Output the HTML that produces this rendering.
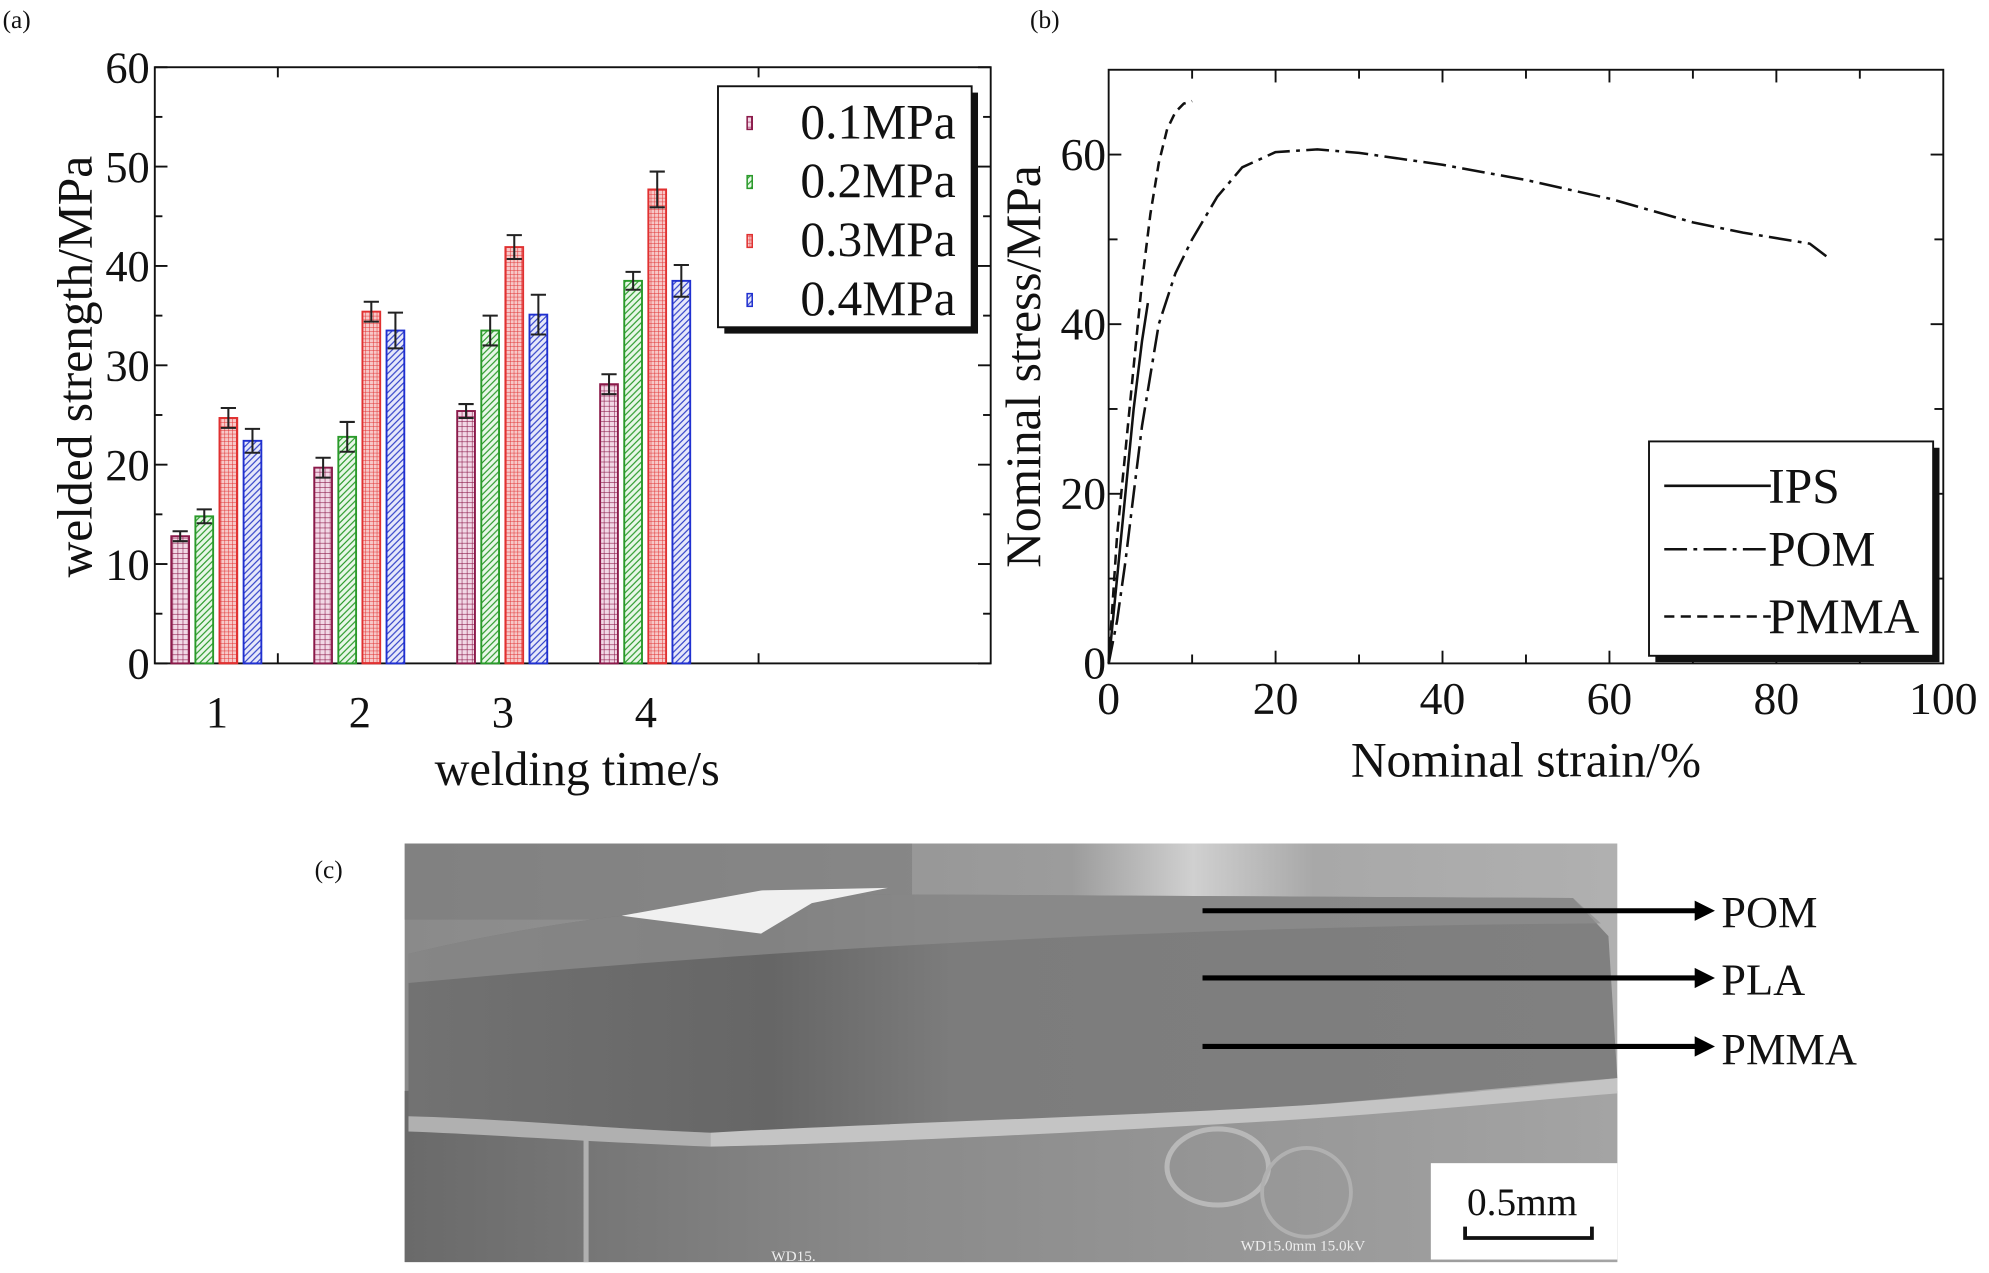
<!DOCTYPE html>
<html><head><meta charset="utf-8"><style>
html,body{margin:0;padding:0;background:#fff}
svg{display:block}
text{font-family:"Liberation Serif",serif;fill:#111}
</style></head><body>
<svg id="fig" width="1989" height="1273" viewBox="0 0 1568 1003.6">
<defs>
<pattern id="p1" width="4" height="4" patternUnits="userSpaceOnUse"><rect width="4" height="4" fill="#f2d8e6"/><path d="M0 0H4M0 0V4" stroke="#8b1a4a" stroke-width="0.9"/></pattern>
<pattern id="p2" width="5" height="5" patternUnits="userSpaceOnUse"><rect width="5" height="5" fill="#e8f7e8"/><path d="M0 5L5 0M-1 1L1 -1M4 6L6 4" stroke="#2a9a2a" stroke-width="0.9"/></pattern>
<pattern id="p3" width="3" height="3" patternUnits="userSpaceOnUse"><rect width="3" height="3" fill="#f7c8c8"/><path d="M0 0H3M0 0V3" stroke="#e03030" stroke-width="0.8"/></pattern>
<pattern id="p4" width="5" height="5" patternUnits="userSpaceOnUse"><rect width="5" height="5" fill="#e6e8fa"/><path d="M0 5L5 0M-1 1L1 -1M4 6L6 4" stroke="#3040c8" stroke-width="0.9"/></pattern>
<linearGradient id="bgTop" x1="0" y1="0" x2="1" y2="0"><stop offset="0" stop-color="#8a8a8a"/><stop offset="0.55" stop-color="#9c9c9c"/><stop offset="0.65" stop-color="#d0d0d0"/><stop offset="0.75" stop-color="#a8a8a8"/><stop offset="1" stop-color="#b0b0b0"/></linearGradient>
<linearGradient id="spec" x1="0" y1="0" x2="1" y2="0"><stop offset="0" stop-color="#727272"/><stop offset="0.3" stop-color="#666"/><stop offset="0.45" stop-color="#7c7c7c"/><stop offset="1" stop-color="#808080"/></linearGradient>
<linearGradient id="bot" x1="0" y1="0" x2="1" y2="0"><stop offset="0" stop-color="#6a6a6a"/><stop offset="0.4" stop-color="#8a8a8a"/><stop offset="1" stop-color="#a4a4a4"/></linearGradient>
</defs>

<text x="2" y="22" font-size="20">(a)</text>
<text x="812" y="22" font-size="20">(b)</text>
<text x="248" y="692" font-size="20">(c)</text>

<g id="chartA"></g>
<g id="chartB"></g>

<g>
<rect x="319" y="665" width="956" height="330" fill="url(#bgTop)"/>
<rect x="319" y="665" width="400" height="60" fill="#7c7c7c" opacity="0.6"/>
<rect x="319" y="860" width="956" height="135" fill="url(#bot)"/>
<ellipse cx="960" cy="920" rx="40" ry="30" fill="none" stroke="#b8b8b8" stroke-width="4"/>
<ellipse cx="1030" cy="940" rx="35" ry="35" fill="none" stroke="#b0b0b0" stroke-width="3"/>
<rect x="460" y="870" width="4" height="125" fill="#b0b0b0"/>
<path d="M322 752 C380 738 440 728 490 722 L600 712 L690 705 L1240 708 L1268 738 L1275 850 C1150 860 1050 872 900 880 C780 888 640 892 560 893 C480 890 400 882 322 880 Z" fill="url(#spec)"/>
<path d="M322 752 C380 738 440 728 490 722 L600 712 L690 705 L1240 708 L1262 728 C1000 730 700 740 322 775 Z" fill="#8e8e8e" opacity="0.7"/>
<path d="M490 722 L600 736 L640 712 L700 700 L600 702 Z" fill="#f0f0f0"/>
<path d="M560 893 C700 885 900 880 1050 870 C1150 862 1230 855 1275 850 L1275 862 C1200 868 1100 878 1000 884 C800 896 650 902 560 904 Z" fill="#c4c4c4"/>
<path d="M322 880 C400 882 480 890 560 893 L560 904 C460 900 380 894 322 892 Z" fill="#b0b0b0"/>
<rect x="1128" y="917" width="147" height="76" fill="#fff"/>
<text x="1200" y="958" font-size="31" text-anchor="middle">0.5mm</text>
<path d="M1155 967V976H1255V967" stroke="#111" stroke-width="3" fill="none"/>
<text x="978" y="986" font-size="12" style="fill:#eee">WD15.0mm 15.0kV</text>
<text x="608" y="994" font-size="12" style="fill:#eee">WD15.</text>
</g>
<g>
<line x1="948" y1="718" x2="1338" y2="718" stroke="#000" stroke-width="4"/><path d="M1336 710L1352 718L1336 726Z"/>
<line x1="948" y1="771" x2="1338" y2="771" stroke="#000" stroke-width="4"/><path d="M1336 763L1352 771L1336 779Z"/>
<line x1="948" y1="825" x2="1338" y2="825" stroke="#000" stroke-width="4"/><path d="M1336 817L1352 825L1336 833Z"/>
<text x="1357" y="731" font-size="35">POM</text>
<text x="1357" y="784" font-size="35">PLA</text>
<text x="1357" y="839" font-size="35">PMMA</text>
</g>
</svg>
<script>
// ===== Chart A data =====
const catsA = ["1","2","3","4"];
const seriesA = ["0.1MPa","0.2MPa","0.3MPa","0.4MPa"];
const valsA = [[12.8,19.7,25.4,28.1],[14.8,22.8,33.5,38.5],[24.7,35.4,41.9,47.7],[22.4,33.5,35.1,38.5]];
const errsA = [[0.5,1.0,0.7,1.0],[0.7,1.5,1.5,0.9],[1.0,1.0,1.2,1.8],[1.2,1.8,2.0,1.6]];
const yTicksA = [0,10,20,30,40,50,60];
// ===== Chart B data =====
const ipsX = [0,1,2,3,4,4.7];
const ipsY = [0,10,20,30,38,42.5];
const pmmaX = [0,1,2,3,4,5,6,7,8,9,10];
const pmmaY = [0,15,25,35,45,53,59,63,65,66,66.3];
const pomX = [0,1,2,3,4,5,6,8,10,13,16,20,25,30,40,50,60,70,76,84,86];
const pomY = [0,5,12,20,28,34,40,46,50,55,58.5,60.3,60.6,60.2,58.8,57,54.8,52,50.8,49.5,48];
const xTicksB = [0,20,40,60,80,100];
const yTicksB = [0,20,40,60];

const NS="http://www.w3.org/2000/svg";
function mk(tag,attrs,parent){const e=document.createElementNS(NS,tag);for(const k in attrs)e.setAttribute(k,attrs[k]);parent.appendChild(e);return e;}

(function(){
const g=document.getElementById('chartA');
const L=122,R=781,T=53,B=523;
const y=v=>B-(v/60)*(B-T);
const xc=i=>171+i*112.7;
const fills=["url(#p1)","url(#p2)","url(#p3)","url(#p4)"];
const strokes=["#8b1a4a","#2a9a2a","#e03030","#2030d0"];
const bw=14, step=19;
const frame=mk('rect',{x:L,y:T,width:R-L,height:B-T,fill:'none',stroke:'#111','stroke-width':1.5},g);


for(let v=0;v<=60;v+=5){
  const len=v%10===0?10:6;
  mk('line',{x1:L,y1:y(v),x2:L+len,y2:y(v),stroke:'#111','stroke-width':1.5},g);
  mk('line',{x1:R,y1:y(v),x2:R-len,y2:y(v),stroke:'#111','stroke-width':1.5},g);
}
[219,598].forEach(xx=>{mk('line',{x1:xx,y1:B,x2:xx,y2:B-8,stroke:'#111','stroke-width':1.5},g);mk('line',{x1:xx,y1:T,x2:xx,y2:T+8,stroke:'#111','stroke-width':1.5},g);});
yTicksA.forEach(v=>{const t=mk('text',{x:L-4,y:y(v)+12,'font-size':35,'text-anchor':'end'},g);t.textContent=v;

});
catsA.forEach((c,i)=>{const t=mk('text',{x:xc(i),y:573,'font-size':35,'text-anchor':'middle'},g);t.textContent=c;

});
for(let s=0;s<4;s++){
  for(let i=0;i<4;i++){
    const x0=xc(i)-36+s*step, v=valsA[s][i], e=errsA[s][i];
    const b=mk('rect',{x:x0,y:y(v),width:bw,height:B-y(v),fill:fills[s],stroke:strokes[s],'stroke-width':1.5},g);
    
    
    const cx=x0+bw/2;
    const eb=mk('path',{d:`M${cx} ${y(v+e)}V${y(v-e)}M${cx-6} ${y(v+e)}H${cx+6}M${cx-6} ${y(v-e)}H${cx+6}`,stroke:'#222','stroke-width':1.6,fill:'none'},g);
    
    
  }
}
const lg=mk('g',{},g);


mk('rect',{x:571,y:73,width:200,height:190,fill:'#111'},lg);
mk('rect',{x:566,y:68,width:200,height:190,fill:'#fff',stroke:'#111','stroke-width':1.5},lg);
seriesA.forEach((s,i)=>{const yy=97+i*46.5;
  mk('rect',{x:589,y:yy-5,width:4,height:10,fill:fills[i],stroke:strokes[i],'stroke-width':1.2},lg);
  const t=mk('text',{x:631,y:yy+12,'font-size':39},lg);t.textContent=s;
  
  });
const yl=mk('text',{x:0,y:0,'font-size':39,'text-anchor':'middle',transform:'translate(72,289) rotate(-90)'},g);yl.textContent='welded strength/MPa';


const xl=mk('text',{x:455,y:619,'font-size':38,'text-anchor':'middle'},g);xl.textContent='welding time/s';


})();

(function(){
const g=document.getElementById('chartB');
const L=874,R=1532,T=55,B=523;
const x=v=>L+(v/100)*(R-L);
const y=v=>B-(v/70)*(B-T);
const frame=mk('rect',{x:L,y:T,width:R-L,height:B-T,fill:'none',stroke:'#111','stroke-width':1.5},g);


for(let v=10;v<100;v+=10){const len=v%20===0?10:7;
  mk('line',{x1:x(v),y1:B,x2:x(v),y2:B-len,stroke:'#111','stroke-width':1.5},g);
  mk('line',{x1:x(v),y1:T,x2:x(v),y2:T+len,stroke:'#111','stroke-width':1.5},g);}
for(let v=10;v<70;v+=10){const len=v%20===0?10:7;
  mk('line',{x1:L,y1:y(v),x2:L+len,y2:y(v),stroke:'#111','stroke-width':1.5},g);
  mk('line',{x1:R,y1:y(v),x2:R-len,y2:y(v),stroke:'#111','stroke-width':1.5},g);}
xTicksB.forEach(v=>{const t=mk('text',{x:x(v),y:563,'font-size':36,'text-anchor':'middle'},g);t.textContent=v;

});
yTicksB.forEach(v=>{const t=mk('text',{x:L-2,y:y(v)+12,'font-size':36,'text-anchor':'end'},g);t.textContent=v;

});
function line(xs,ys,dash,name){
  const d=xs.map((v,i)=>(i?'L':'M')+x(v).toFixed(1)+' '+y(ys[i]).toFixed(1)).join('');
  const p=mk('path',{d,fill:'none',stroke:'#111','stroke-width':2,'stroke-dasharray':dash,'stroke-linejoin':'round'},g);
  
  
}
line(ipsX,ipsY,'none','line-ips');
line(pomX,pomY,'18 5 3 5','line-pom');
line(pmmaX,pmmaY,'8 5','line-pmma');
const lg=mk('g',{},g);


mk('rect',{x:1305,y:353,width:224,height:169,fill:'#111'},lg);
mk('rect',{x:1300,y:348,width:224,height:169,fill:'#fff',stroke:'#111','stroke-width':1.5},lg);
[['IPS','none',383],['POM','18 5 3 5',433],['PMMA','8 5',486]].forEach(([n,da,yy])=>{
  mk('line',{x1:1312,y1:yy,x2:1396,y2:yy,stroke:'#111','stroke-width':2,'stroke-dasharray':da},lg);
  const t=mk('text',{x:1394,y:yy+13,'font-size':39},lg);t.textContent=n;
  
  });
const yl=mk('text',{x:0,y:0,'font-size':39,'text-anchor':'middle',transform:'translate(820,289) rotate(-90)'},g);yl.textContent='Nominal stress/MPa';


const xl=mk('text',{x:1203,y:612,'font-size':39,'text-anchor':'middle'},g);xl.textContent='Nominal strain/%';


})();
</script>
</body></html>
